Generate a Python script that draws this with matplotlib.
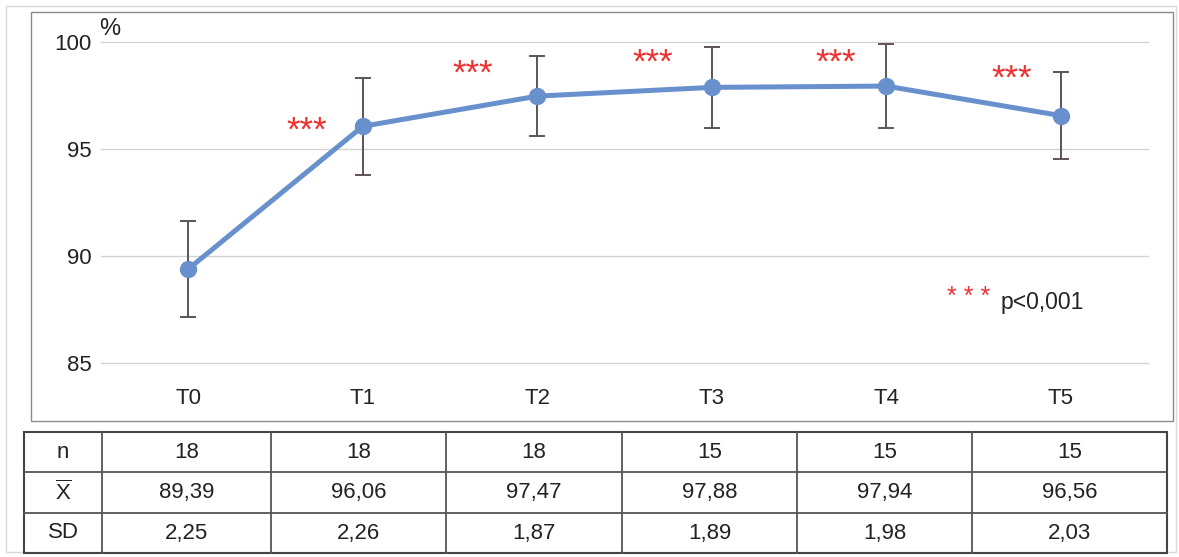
import matplotlib.pyplot as plt
from matplotlib.patches import Rectangle

# data
times = ["T0", "T1", "T2", "T3", "T4", "T5"]
n_values = [18, 18, 18, 15, 15, 15]
means = [89.39, 96.06, 97.47, 97.88, 97.94, 96.56]
sds = [2.25, 2.26, 1.87, 1.89, 1.98, 2.03]

# significance marks between points (x position, y value)
star_x = [0.68, 1.63, 2.66, 3.71, 4.72]
star_y = [95.85, 98.5, 99.0, 99.0, 98.25]

W, H = 1179, 557
plt.rcParams["font.family"] = ["Liberation Sans", "DejaVu Sans"]
plt.rcParams["mathtext.fontset"] = "custom"
plt.rcParams["mathtext.rm"] = "Liberation Sans"
fig = plt.figure(figsize=(W / 100, H / 100), dpi=100)


def fx(px):
    return px / W


def fy(py):
    return 1 - py / H


# outer light frame
fig.add_artist(Rectangle((fx(6), fy(552)), fx(1176) - fx(6), fy(6) - fy(552),
                         transform=fig.transFigure, fill=False,
                         edgecolor="#d8d8d8", linewidth=1))
# chart box
fig.add_artist(Rectangle((fx(31), fy(421)), fx(1173) - fx(31), fy(12) - fy(421),
                         transform=fig.transFigure, fill=False,
                         edgecolor="#8a8a8a", linewidth=1))

ax = fig.add_axes([fx(101), fy(363), fx(1148) - fx(101), fy(42) - fy(363)])
x = list(range(len(times)))

ax.errorbar(x, means, yerr=sds, fmt="none", ecolor="#5e5454",
            elinewidth=1.4, capsize=6, capthick=1.4, zorder=2)
ax.plot(x, means, color="#6890cc", linewidth=3.6, marker="o",
        markersize=11.5, zorder=3)

for sx, sy in zip(star_x, star_y):
    ax.text(sx, sy, "***", color="#ee3030", fontsize=25,
            ha="center", va="center")

ax.set_xlim(-0.5, len(times) - 0.5)
ax.set_ylim(85, 100)
ax.set_yticks([85, 90, 95, 100])
ax.set_yticklabels(["85", "90", "95", "100"])
ax.set_xticks(x)
ax.set_xticklabels(times)
ax.tick_params(axis="both", length=0, labelsize=16, colors="#222222")
ax.tick_params(axis="x", pad=18)
ax.tick_params(axis="y", pad=7)
ax.grid(axis="y", color="#d4d4d4", linewidth=1)
for gl in ax.get_ygridlines():
    gl.set_clip_on(False)
ax.set_axisbelow(True)
for s in ax.spines.values():
    s.set_visible(False)

fig.text(fx(110), fy(29), "%", fontsize=17, color="#222222",
         ha="center", va="center")

# p-value legend
fig.text(fx(969), fy(297), "* * *", fontsize=18, color="#ee3030",
         ha="center", va="center")
fig.text(fx(1001), fy(302), "p<0,001", fontsize=16.5, color="#222222",
         ha="left", va="center")

# table
col_edges = [24, 102, 271, 446, 622, 797, 972, 1167]
row_edges = [432, 472, 513, 553]
row_labels = ["n", r"$\overline{\mathrm{X}}$", "SD"]
rows = [
    [str(v) for v in n_values],
    [f"{v:.2f}".replace(".", ",") for v in means],
    [f"{v:.2f}".replace(".", ",") for v in sds],
]

fig.add_artist(Rectangle((fx(col_edges[0]), fy(row_edges[-1])),
                         fx(col_edges[-1]) - fx(col_edges[0]),
                         fy(row_edges[0]) - fy(row_edges[-1]),
                         transform=fig.transFigure, fill=False,
                         edgecolor="#444444", linewidth=1.5))
for cx in col_edges[1:-1]:
    fig.add_artist(plt.Line2D([fx(cx), fx(cx)], [fy(row_edges[0]), fy(row_edges[-1])],
                              transform=fig.transFigure, color="#555555", linewidth=1.3))
for ry in row_edges[1:-1]:
    fig.add_artist(plt.Line2D([fx(col_edges[0]), fx(col_edges[-1])], [fy(ry), fy(ry)],
                              transform=fig.transFigure, color="#555555", linewidth=1.3))

for i, label in enumerate(row_labels):
    cy = (row_edges[i] + row_edges[i + 1]) / 2
    fig.text(fx((col_edges[0] + col_edges[1]) / 2), fy(cy), label,
             fontsize=16, color="#222222", ha="center", va="center")
    for j, val in enumerate(rows[i]):
        cx = (col_edges[j + 1] + col_edges[j + 2]) / 2
        fig.text(fx(cx), fy(cy), val, fontsize=16, color="#222222",
                 ha="center", va="center")

fig.savefig("out.png", dpi=100, facecolor="white")
